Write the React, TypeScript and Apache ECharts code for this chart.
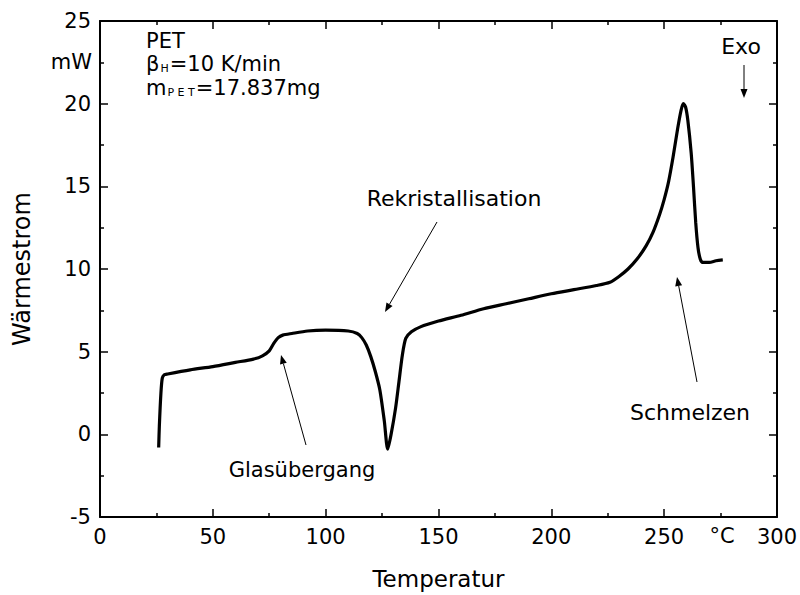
import React, { useEffect, useRef } from 'react';
import * as echarts from 'echarts';

// DSC curve of PET: temperature (°C) vs heat flow (mW)
const temperature = [
  26, 26.3, 27, 27.6, 28.5, 30, 40, 50, 60, 68, 72, 75, 77, 79, 81, 85, 92, 100, 110, 114,
  116, 118, 120, 122, 124, 126, 127.5, 129, 131, 132.5, 134, 135.5, 138, 142, 150, 160, 170,
  180, 190, 200, 210, 220, 226, 230, 234, 238, 242, 245, 248, 250, 252, 254, 256, 257.5, 258.5,
  259.5, 260.5, 262, 263, 264, 265, 266, 267, 270, 273, 276,
];
const heatFlow = [
  -0.8, 0.5, 2.5, 3.4, 3.6, 3.65, 3.9, 4.1, 4.35, 4.55, 4.75, 5.05, 5.5, 5.85, 6.0, 6.1, 6.25, 6.3, 6.25, 6.1,
  5.85, 5.4, 4.7, 3.8, 2.7, 0.8, -0.9, 0.0, 1.6, 3.2, 4.8, 5.8, 6.2, 6.5, 6.85, 7.2, 7.6,
  7.9, 8.2, 8.5, 8.75, 9.0, 9.2, 9.55, 10.0, 10.6, 11.4, 12.2, 13.3, 14.2, 15.3, 16.8, 18.5, 19.6, 20.0,
  19.8, 19.0, 17.0, 15.0, 12.8, 11.3, 10.6, 10.4, 10.4, 10.5, 10.55,
];
const xTickValues = [0, 50, 100, 150, 200, 250, 300];
const yTickValues = [-5, 0, 5, 10, 15, 20, 25];

const FONT = 'DejaVu Sans, Verdana, sans-serif';

function arrow(x1: number, y1: number, x2: number, y2: number) {
  const dx = x2 - x1;
  const dy = y2 - y1;
  const len = Math.sqrt(dx * dx + dy * dy);
  const ux = dx / len;
  const uy = dy / len;
  const hl = 9;
  const hw = 3.5;
  const bx = x2 - ux * hl;
  const by = y2 - uy * hl;
  return [
    {
      type: 'line',
      shape: { x1, y1, x2: bx, y2: by },
      style: { stroke: '#000', lineWidth: 1 },
    },
    {
      type: 'polygon',
      shape: {
        points: [
          [x2, y2],
          [bx - uy * hw, by + ux * hw],
          [bx + uy * hw, by - ux * hw],
        ],
      },
      style: { fill: '#000' },
    },
  ];
}

export default function App() {
  const ref = useRef<HTMLDivElement>(null);
  useEffect(() => {
    const chart = echarts.init(ref.current!, null, { renderer: 'svg' });
    const data = temperature.map((t, i) => [t, heatFlow[i]]);
    const axisCommon = {
      axisLine: { show: true, onZero: false, lineStyle: { color: '#000', width: 2 } },
      axisTick: { show: true, inside: true, length: 8, lineStyle: { color: '#000', width: 1.5 } },
      minorTick: { show: true, splitNumber: 2, length: 4, lineStyle: { color: '#000', width: 1.5 } },
      splitLine: { show: false },
    };
    const textStyle = { fontFamily: FONT, fontSize: 22, fill: '#000' };
    const subRich = {
      a: { fontFamily: FONT, fontSize: 21, fill: '#000', lineHeight: 21, verticalAlign: 'middle' },
      s: { fontFamily: FONT, fontSize: 11, fill: '#000', verticalAlign: 'bottom', padding: [0, 1, 0, 1] },
    };
    chart.setOption({
      animation: false,
      backgroundColor: '#fff',
      grid: { left: 100, right: 21, top: 21, bottom: 78, containLabel: false },
      xAxis: [
        {
          type: 'value',
          min: xTickValues[0],
          max: xTickValues[xTickValues.length - 1],
          interval: 50,
          position: 'bottom',
          ...axisCommon,
          axisLabel: { color: '#000', fontSize: 21, fontFamily: FONT, margin: 9 },
          name: 'Temperatur',
          nameLocation: 'middle',
          nameGap: 50,
          nameTextStyle: { color: '#000', fontSize: 23, fontFamily: FONT },
        },
        {
          type: 'value',
          min: xTickValues[0],
          max: xTickValues[xTickValues.length - 1],
          interval: 50,
          position: 'top',
          ...axisCommon,
          axisLabel: { show: false },
        },
      ],
      yAxis: [
        {
          type: 'value',
          min: yTickValues[0],
          max: yTickValues[yTickValues.length - 1],
          interval: 5,
          position: 'left',
          ...axisCommon,
          axisLabel: { color: '#000', fontSize: 21, fontFamily: FONT, margin: 9 },
          name: 'Wärmestrom',
          nameLocation: 'middle',
          nameGap: 66,
          nameRotate: 90,
          nameTextStyle: { color: '#000', fontSize: 24, fontFamily: FONT },
        },
        {
          type: 'value',
          min: yTickValues[0],
          max: yTickValues[yTickValues.length - 1],
          interval: 5,
          position: 'right',
          ...axisCommon,
          axisLabel: { show: false },
        },
      ],
      series: [
        {
          type: 'line',
          data,
          showSymbol: false,
          symbol: 'none',
          smooth: 0.25,
          lineStyle: { color: '#000', width: 3.2 },
          xAxisIndex: 0,
          yAxisIndex: 0,
        },
      ],
      graphic: [
        { type: 'text', x: 92, y: 62, style: { ...textStyle, fontSize: 21, text: 'mW', align: 'right', verticalAlign: 'middle' } },
        { type: 'text', x: 722, y: 536, style: { ...textStyle, fontSize: 21, text: '°C', align: 'center', verticalAlign: 'middle' } },
        { type: 'text', x: 146, y: 41, style: { ...textStyle, fontSize: 21, text: 'PET', verticalAlign: 'middle' } },
        {
          type: 'text',
          x: 146,
          y: 53,
          style: { text: '{a|β}{s|H}{a|=10 K/min}', fill: '#000', rich: subRich },
        },
        {
          type: 'text',
          x: 146,
          y: 77,
          style: { text: '{a|m}{s|P E T}{a|=17.837mg}', fill: '#000', rich: subRich },
        },
        { type: 'text', x: 741, y: 46, style: { ...textStyle, text: 'Exo', align: 'center', verticalAlign: 'middle' } },
        ...arrow(744, 65, 744, 98),
        { type: 'text', x: 454, y: 198, style: { ...textStyle, text: 'Rekristallisation', align: 'center', verticalAlign: 'middle' } },
        ...arrow(437, 222, 385, 312),
        { type: 'text', x: 302, y: 470, style: { ...textStyle, fontSize: 21, text: 'Glasübergang', align: 'center', verticalAlign: 'middle' } },
        ...arrow(306, 445, 281, 355),
        { type: 'text', x: 690, y: 412, style: { ...textStyle, text: 'Schmelzen', align: 'center', verticalAlign: 'middle' } },
        ...arrow(697, 382, 677, 277),
      ],
    });
    return () => chart.dispose();
  }, []);
  return (
    <div
      ref={ref}
      style={{ position: 'fixed', left: 0, top: 0, width: 800, height: 595, background: '#fff' }}
    />
  );
}
